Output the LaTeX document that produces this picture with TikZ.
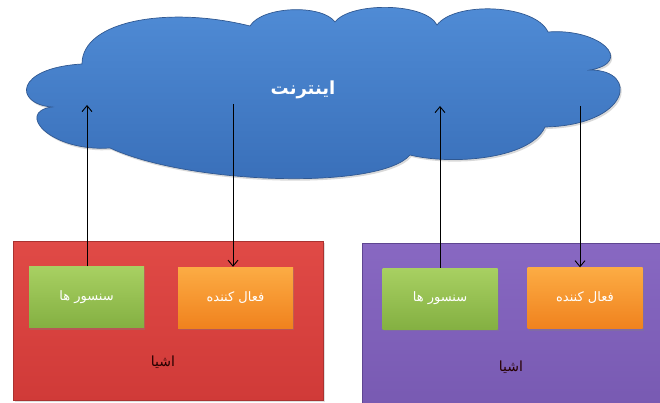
\documentclass[tikz,border=0pt]{standalone}
\usepackage{fontspec}
\newfontfamily\arabicfont[Script=Arabic]{DejaVu Sans}
\TeXXeTstate=1
\usetikzlibrary{shadows,arrows.meta}
\definecolor{cloudtop}{RGB}{80,140,214}
\definecolor{cloudbot}{RGB}{56,110,184}
\definecolor{cloudline}{RGB}{48,88,145}
\definecolor{redtop}{RGB}{224,74,70}
\definecolor{redbot}{RGB}{208,58,56}
\definecolor{redline}{RGB}{170,50,48}
\definecolor{purtop}{RGB}{136,104,194}
\definecolor{purbot}{RGB}{120,90,178}
\definecolor{purline}{RGB}{95,70,145}
\definecolor{grntop}{RGB}{168,208,98}
\definecolor{grnbot}{RGB}{132,176,66}
\definecolor{orgtop}{RGB}{252,172,68}
\definecolor{orgbot}{RGB}{240,130,30}
\tikzset{
  bigbox/.style={draw, line width=0.6pt, minimum width=#1, inner sep=0pt, drop shadow={opacity=0.25, shadow xshift=1.5pt, shadow yshift=-1.5pt}},
  smallbox/.style={draw=none, inner sep=0pt, minimum width=115pt, minimum height=61pt, text=white, font=\arabicfont\fontsize{13}{15}\selectfont, drop shadow={opacity=0.35, shadow xshift=1pt, shadow yshift=-2pt}},
  sensorbox/.style={smallbox, top color=grntop, bottom color=grnbot},
  actbox/.style={smallbox, top color=orgtop, bottom color=orgbot},
  thinglabel/.style={font=\arabicfont\fontsize{14}{16}\selectfont, text=black!85!red},
  link/.style={line width=0.9pt, -{Straight Barb[length=6pt,width=10pt]}}
}
\begin{document}
\begin{tikzpicture}[x=1pt,y=-1pt]
\useasboundingbox (0,0) rectangle (660,403);
% cloud
\path[fill=black, opacity=0.15, xshift=1.5pt, yshift=-2pt]
  (52,107) .. controls (14,104) and (14,68) .. (82,64)
  .. controls (82,20) and (170,6) .. (250,26)
  .. controls (262,6) and (322,4) .. (335,22)
  .. controls (350,2) and (425,2) .. (437,25)
  .. controls (455,1) and (535,4) .. (548,32)
  .. controls (600,28) and (635,62) .. (590,70)
  .. controls (640,70) and (630,125) .. (545,127)
  .. controls (530,160) and (450,165) .. (410,155)
  .. controls (380,190) and (190,185) .. (110,148)
  .. controls (50,152) and (15,112) .. (52,107) -- cycle;
\path[draw=cloudline, line width=0.7pt, top color=cloudtop, bottom color=cloudbot]
  (52,107) .. controls (14,104) and (14,68) .. (82,64)
  .. controls (82,20) and (170,6) .. (250,26)
  .. controls (262,6) and (322,4) .. (335,22)
  .. controls (350,2) and (425,2) .. (437,25)
  .. controls (455,1) and (535,4) .. (548,32)
  .. controls (600,28) and (635,62) .. (590,70)
  .. controls (640,70) and (630,125) .. (545,127)
  .. controls (530,160) and (450,165) .. (410,155)
  .. controls (380,190) and (190,185) .. (110,148)
  .. controls (50,152) and (15,112) .. (52,107) -- cycle;
\node[text=white, font=\arabicfont\bfseries\fontsize{18}{21}\selectfont] (net) at (303,90) {\beginR اینترنت\endR};
\coordinate (c1) at (87,105);
\coordinate (c2) at (233,104);
\coordinate (c3) at (440,106);
\coordinate (c4) at (580,106);
% thing boxes
\node[bigbox=310pt, minimum height=159pt, draw=redline, top color=redtop, bottom color=redbot] (thing1) at (168,320.5) {};
\node[bigbox=302pt, minimum height=163pt, draw=purline, top color=purtop, bottom color=purbot] (thing2) at (513,324.5) {};
\node[sensorbox] (s1) at (86.5,297) {\beginR سنسور ها\endR};
\node[actbox] (a1) at (235.5,297.5) {\beginR فعال کننده\endR};
\node[sensorbox] (s2) at (440,298.5) {\beginR سنسور ها\endR};
\node[actbox] (a2) at (585,298) {\beginR فعال کننده\endR};
\node[thinglabel] (l1) at (163,362) {\beginR اشیا\endR};
\node[thinglabel] (l2) at (511,367) {\beginR اشیا\endR};
% links
\draw[link] (s1.north -| c1) -- (c1);
\draw[link] (c2) -- (c2 |- a1.north);
\draw[link] (s2.north -| c3) -- (c3);
\draw[link] (c4) -- (c4 |- a2.north);
\end{tikzpicture}
\end{document}
